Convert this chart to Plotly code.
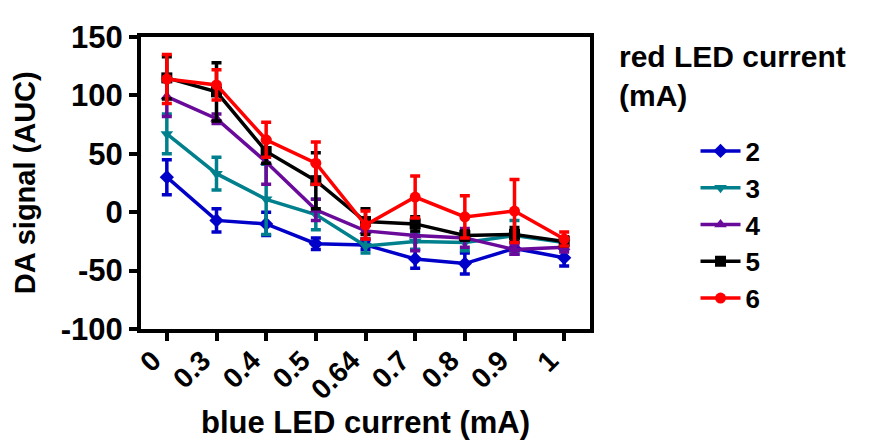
import plotly.graph_objects as go

categories = ["0", "0.3", "0.4", "0.5", "0.64", "0.7", "0.8", "0.9", "1"]
series_names = ["2", "3", "4", "5", "6"]
y_ticks = [-100, -50, 0, 50, 100, 150]
y_ticklabels = ["-100", "-50", "0", "50", "100", "150"]

vals_2 = [30, -7, -10, -27, -28, -40, -44, -31, -39]
err_2 = [15, 10, 10, 5, 4, 8, 9, 5, 7]
vals_3 = [67, 33, 11, -2, -29, -25, -26, -20, -26]
err_3 = [17, 14, 30, 13, 6, 7, 7, 13, 5]
vals_4 = [99, 80, 43, 2, -16, -20, -22, -32, -30]
err_4 = [17, 4, 19, 9, 7, 13, 8, 4, 4]
vals_5 = [115, 103, 52, 27, -8, -10, -20, -19, -25]
err_5 = [18, 25, 10, 24, 11, 6, 4, 6, 4]
vals_6 = [114, 109, 62, 42, -11, 13, -4, 1, -23]
err_6 = [21, 13, 15, 18, 12, 18, 18, 27, 6]

colors = ["#0000C8", "#00808C", "#6A0A9A", "#000000", "#FF0000"]
symbols = ["diamond", "triangle-down", "triangle-up", "square", "circle"]
values = [vals_2, vals_3, vals_4, vals_5, vals_6]
errors = [err_2, err_3, err_4, err_5, err_6]

FONT = "Liberation Sans"

fig = go.Figure()
for name, v, e, c, s in zip(series_names, values, errors, colors, symbols):
    fig.add_trace(go.Scatter(
        x=categories, y=v, name=name, mode="lines+markers",
        line=dict(color=c, width=3.5),
        marker=dict(symbol=s, size=11, color=c),
        error_y=dict(type="data", array=e, visible=True, color=c,
                     thickness=3.5, width=5),
    ))

fig.update_layout(
    width=869, height=445,
    margin=dict(l=133, r=287, t=21, b=124),
    paper_bgcolor="white", plot_bgcolor="white",
    font=dict(family=FONT, size=26, color="black"),
    showlegend=True,
    legend=dict(x=1.235, y=0.69, xanchor="left", yanchor="top",
                font=dict(family=FONT, size=26, color="black", weight="bold"),
                itemwidth=40, tracegroupgap=0, bgcolor="rgba(0,0,0,0)"),
    xaxis=dict(
        type="category", range=[-0.52, 8.52],
        showline=True, linecolor="black", linewidth=4, mirror=True,
        ticks="outside", ticklen=8, tickwidth=4, tickcolor="black",
        tickangle=-45, showgrid=False, zeroline=False,
        ticklabelshift=-14, ticklabelstandoff=-8,
        tickfont=dict(family=FONT, size=28, color="black", weight="bold"),
        title=dict(text="<b>blue LED current (mA)</b>", standoff=4,
                   font=dict(family=FONT, size=31, color="black")),
    ),
    yaxis=dict(
        range=[-100, 150], tickvals=y_ticks, ticktext=y_ticklabels,
        showline=True, linecolor="black", linewidth=4, mirror=True,
        ticks="outside", ticklen=8, tickwidth=4, tickcolor="black",
        showgrid=False, zeroline=False,
        tickfont=dict(family=FONT, size=31, color="black", weight="bold"),
    ),
    annotations=[
        dict(text="<b>red LED current<br>(mA)</b>", xref="paper", yref="paper",
             x=1.06, y=0.995, xanchor="left", yanchor="top", align="left",
             showarrow=False, font=dict(family=FONT, size=30, color="black")),
        dict(text="<b>DA signal (AUC)</b>", xref="paper", yref="paper",
             x=-0.258, y=0.5, xanchor="center", yanchor="middle",
             textangle=-90, showarrow=False,
             font=dict(family=FONT, size=29, color="black")),
    ],
)

fig.write_html("out.html")
